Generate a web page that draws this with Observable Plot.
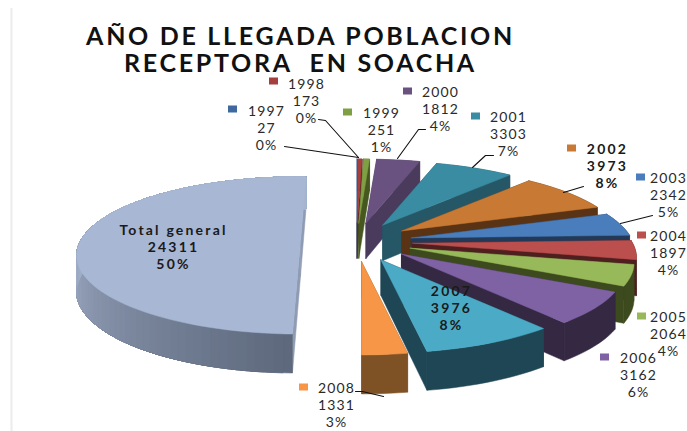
<!DOCTYPE html>
<html><head><meta charset="utf-8">
<script src="https://cdn.jsdelivr.net/npm/d3@7"></script>
<script src="https://cdn.jsdelivr.net/npm/@observablehq/plot@0.6"></script>
<style>
html,body{margin:0;padding:0;background:#fff;overflow:hidden}
.ttl{letter-spacing:2.7px}
.lab{letter-spacing:1.1px}
.labw{letter-spacing:2.2px}
</style></head><body><div id="chart"></div>
<script>
// Data
const years  = ["1997","1998","1999","2000","2001","2002","2003","2004","2005","2006","2007","2008","Total general"];
const values = [27,173,251,1812,3303,3973,2342,1897,2064,3162,3976,1331,24311];
const pcts   = [0,0,1,4,7,8,5,4,4,6,8,3,50];
const tops   = ["#9fb2d2","#a5403f","#7f9f45","#69527f","#3a8ca3","#c87a35","#4a7dbb","#bb4f4d","#98b95a","#7f62a3","#4babc6","#f79646","#a7b7d4"];
const walls  = ["#6f7f99","#5a2020","#46581f","#4a3a5c","#265766","#5a3315","#223a58","#4f1f20","#3d4a1e","#352842","#1f4655","#7f5226","#8e9bb3"];
const keys   = ["#3f689f","#a5403f","#7f9f45","#69527f","#3a8ca3","#c87a35","#4a7dbb","#bb4f4d","#98b95a","#7f62a3",null,"#f79646",null];

// Layout of labels: centre x, middle-line y, key left, key y
const labelX = [266,306,381,440,508,607,668,668,668,638,451,336,173];
const labelY = [127,100,129,108,133,165,194,252,333,374,307,404,246];
const keyX   = [228,269,343,403,471,567,636,637,637,600,null,299,null];
const keyY   = [109,81,112,91,116,148,177,235,316,357,null,387,null];
const boldLabels = new Set(["2002","2007","Total general"]);
const leaders = [
  [[284,146],[358,157]],
  [[318,119],[325,120],[358,157]],
  [[425,129],[418,129],[397,158]],
  [[493,155],[485,155],[472,167]],
  [[583,186],[563,192]],
  [[652,215],[620,223]],
  [[355,391],[362,391],[383,396]]
];
const titleText = "AÑO DE LLEGADA POBLACION\nRECEPTORA  EN SOACHA";

// 3-D pie geometry
const CX = 356, CY = 241, EXPLODE = 0.255, D = 5.4, FX = 1188, FY = 410;
const P = (X, Y) => [FX * X / (D + Y), -FY * Y / (D + Y)];
const depth = Y => 35.5 - 3.5 * Y;
const rad = a => a * Math.PI / 180;
const total = d3.sum(values);
const rows = [];
let pid = 0;
const poly = (pts, color) => { pid++; for (const [x, y] of [...pts, pts[0]]) rows.push({id: pid, x, y, color}); };

let cum = 0;
values.forEach((v, i) => {
  const isTotal = i === values.length - 1;
  const tilt = isTotal ? 1.7 : 0;
  const a0 = cum / total * 360 + tilt, a1 = (cum + v) / total * 360 + tilt;
  cum += v;
  const m = rad((a0 + a1) / 2);
  const ap = P(EXPLODE * Math.sin(m), EXPLODE * Math.cos(m));
  const ax = CX + ap[0], ay = CY + ap[1];
  const rim = a => { const t = rad(a), Y = Math.cos(t), p = P(Math.sin(t), Y); return [ax + p[0], ay + p[1], depth(Y)]; };
  const n = Math.max(1, Math.ceil((a1 - a0) / 2));
  const angs = d3.range(n + 1).map(k => a0 + (a1 - a0) * k / n);
  const rp = angs.map(rim);
  const ad = depth(0);
  const s = rp[0], e = rp[n];
  const band = from => [...rp.slice(from).map(r => [r[0], r[1]]), ...rp.slice(from).reverse().map(r => [r[0], r[1] + r[2]])];
  // side walls
  poly([[ax, ay], [s[0], s[1]], [s[0], s[1] + s[2]], [ax, ay + ad]], walls[i]);
  poly([[ax, ay], [e[0], e[1]], [e[0], e[1] + e[2]], [ax, ay + ad]], walls[i]);
  // rim wall: stacked bands give the total slice its smooth shading without seams
  if (isTotal) {
    for (let k = 0; k < n; k++) {
      poly(band(k), d3.interpolateRgb("#5e697d", "#a6b4ce")(Math.min(1, (angs[k] - 182) / 95)));
    }
  } else {
    poly(band(0), walls[i]);
  }
  // top face
  poly([[ax, ay], ...rp.map(r => [r[0], r[1]])], tops[i]);
});

const labels = years.map((y, i) => ({
  text: `${y}\n${values[i]}\n${pcts[i]}%`, x: labelX[i], y: labelY[i], bold: boldLabels.has(y)
}));
const keyRows = years.map((y, i) => ({x: keyX[i], y: keyY[i], c: keys[i]})).filter(d => d.c);
const leaderRows = leaders.flatMap((l, i) => l.map(([x, y]) => ({i, x, y})));

const chart = Plot.plot({
  width: 687, height: 431, margin: 0,
  x: {domain: [0, 687], range: [0, 687], axis: null},
  y: {domain: [0, 431], range: [0, 431], axis: null},
  color: {type: "identity"},
  style: {fontFamily: "Lato, 'Open Sans', sans-serif", background: "#fff"},
  marks: [
    Plot.ruleX([11], {y1: 8, y2: 431, stroke: "#ececec", strokeWidth: 2}),
    Plot.line(rows, {x: "x", y: "y", z: "id", fill: "color", stroke: "color", strokeWidth: 0.5, curve: "linear"}),
    Plot.line(leaderRows, {x: "x", y: "y", z: "i", stroke: "#111", strokeWidth: 1.1, curve: "linear"}),
    Plot.rect(keyRows, {x1: "x", x2: d => d.x + 9, y1: d => d.y - 3.5, y2: d => d.y + 3.5, fill: "c"}),
    Plot.text(labels.filter(d => !d.bold), {x: "x", y: "y", text: "text", fontSize: 14, lineHeight: 1.2, fill: "#2a2a2a", className: "lab"}),
    Plot.text(labels.filter(d => d.bold), {x: "x", y: "y", text: "text", fontSize: 14, fontWeight: 700, lineHeight: 1.2, fill: "#1a1a1a", className: "labw"}),
    Plot.text([titleText], {x: 300, y: 49, text: d => d, fontSize: 25, fontWeight: 700, lineHeight: 1.08, fill: "#111", className: "ttl"})
  ]
});
document.getElementById("chart").append(chart);
</script></body></html>
